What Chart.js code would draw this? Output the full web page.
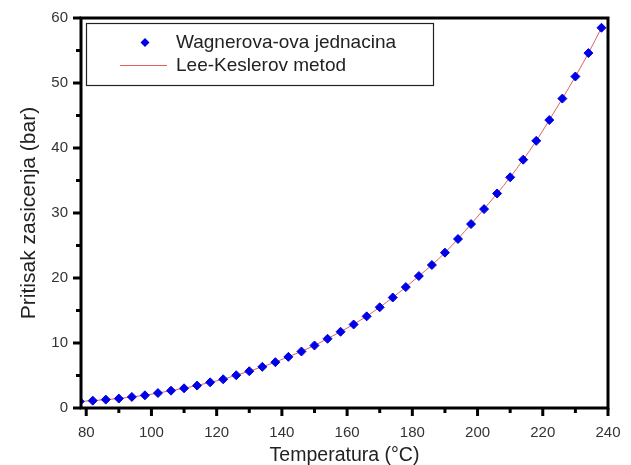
<!DOCTYPE html>
<html>
<head>
<meta charset="utf-8">
<script src="https://cdn.jsdelivr.net/npm/chart.js@4"></script>
<style>
  body { margin: 0; background: #fff; }
  canvas { display: block; }
</style>
</head>
<body>
<canvas id="chart" width="631" height="465"></canvas>
<script>
// temperatures (°C)
const temps = [78, 82, 86, 90, 94, 98, 102, 106, 110, 114, 118, 122, 126, 130, 134, 138, 142, 146, 150, 154,
  158, 162, 166, 170, 174, 178, 182, 186, 190, 194, 198, 202, 206, 210, 214, 218, 222, 226, 230, 234, 238];
// saturation pressure (bar)
const wagner = [1.0, 1.13, 1.29, 1.45, 1.7, 1.95, 2.3, 2.67, 3.03, 3.45, 3.95, 4.42, 5.04, 5.66, 6.33, 7.05, 7.87, 8.69, 9.62, 10.65,
  11.73, 12.85, 14.1, 15.5, 17.0, 18.6, 20.3, 22.0, 23.9, 26.0, 28.3, 30.6, 33.0, 35.5, 38.2, 41.1, 44.3, 47.6, 51.0, 54.6, 58.5];
const leeKesler = [1.0, 1.13, 1.29, 1.46, 1.7, 1.96, 2.3, 2.67, 3.04, 3.46, 3.95, 4.43, 5.04, 5.67, 6.34, 7.06, 7.88, 8.7, 9.63, 10.66,
  11.75, 12.87, 14.12, 15.5, 17.0, 18.6, 20.3, 22.0, 23.9, 26.0, 28.3, 30.6, 33.0, 35.5, 38.2, 41.1, 44.3, 47.6, 51.0, 54.6, 58.5];
const xTicks = [80, 100, 120, 140, 160, 180, 200, 220, 240];
const yTicks = [0, 10, 20, 30, 40, 50, 60];

const labelFont = "'Liberation Sans', Arial, sans-serif";

// frame, tick marks and boxed legend
const framePlugin = {
  id: "frame",
  afterDraw(chart) {
    const c = chart.ctx;
    const a = chart.chartArea;
    const xs = chart.scales.x, ys = chart.scales.y;
    c.save();
    c.strokeStyle = "#000";
    c.lineWidth = 3;
    c.strokeRect(a.left, a.top, a.right - a.left, a.bottom - a.top);

    c.lineWidth = 3;
    // x ticks (major + minor)
    for (let v = 80; v <= 240; v += 10) {
      const px = xs.getPixelForValue(v);
      c.beginPath();
      c.moveTo(px, a.bottom);
      c.lineTo(px, a.bottom + (v % 20 === 0 ? 8 : 5));
      c.stroke();
    }
    // y ticks (major + minor)
    for (let v = 0; v <= 60; v += 5) {
      const py = ys.getPixelForValue(v);
      c.beginPath();
      c.moveTo(a.left, py);
      c.lineTo(a.left - (v % 10 === 0 ? 8 : 5), py);
      c.stroke();
    }

    // legend box
    c.lineWidth = 1.2;
    c.strokeStyle = "#222";
    c.strokeRect(86.5, 23.5, 347, 62);
    c.font = "19px " + labelFont;
    c.textBaseline = "middle";
    const ds = chart.data.datasets;
    // diamond
    c.fillStyle = ds[0].backgroundColor;
    c.beginPath();
    c.moveTo(145, 38); c.lineTo(149.5, 42.5); c.lineTo(145, 47); c.lineTo(140.5, 42.5);
    c.closePath();
    c.fill();
    // line
    c.strokeStyle = ds[1].borderColor;
    c.lineWidth = 1;
    c.beginPath();
    c.moveTo(120, 65.5); c.lineTo(167, 65.5);
    c.stroke();
    c.fillStyle = "#222";
    c.fillText(ds[0].label, 176, 43);
    c.fillText(ds[1].label, 176, 66);
    c.restore();
  }
};

new Chart(document.getElementById("chart"), {
  type: "scatter",
  data: {
    datasets: [
      {
        label: "Wagnerova-ova jednacina",
        data: temps.map((t, i) => ({ x: t, y: wagner[i] })),
        backgroundColor: "#0000e6",
        borderColor: "#0000e6",
        pointStyle: "rectRot",
        pointRadius: 4.5,
        showLine: false
      },
      {
        label: "Lee-Keslerov metod",
        data: temps.map((t, i) => ({ x: t, y: leeKesler[i] })),
        borderColor: "#e06060",
        backgroundColor: "#e06060",
        borderWidth: 1,
        pointRadius: 0,
        showLine: true,
        cubicInterpolationMode: "monotone"
      }
    ]
  },
  options: {
    responsive: false,
    animation: false,
    layout: { padding: { left: 0, top: 18, right: 23, bottom: 0 } },
    plugins: {
      legend: { display: false },
      tooltip: { enabled: false }
    },
    scales: {
      x: {
        type: "linear",
        min: 78.4,
        max: 240,
        afterFit: s => { s.height = 57; },
        afterBuildTicks: s => { s.ticks = xTicks.map(v => ({ value: v })); },
        grid: { display: false },
        border: { display: false },
        ticks: {
          padding: 8,
          autoSkip: false,
          maxRotation: 0,
          color: "#333",
          font: { family: labelFont, size: 15 }
        },
        title: {
          display: true,
          text: "Temperatura (°C)",
          color: "#222",
          padding: { top: 0, bottom: -2 },
          font: { family: labelFont, size: 19.5 }
        }
      },
      y: {
        min: 0,
        max: 60,
        afterFit: s => { s.width = 81; },
        afterBuildTicks: s => { s.ticks = yTicks.map(v => ({ value: v })); },
        grid: { display: false },
        border: { display: false },
        ticks: {
          padding: 5,
          color: "#333",
          font: { family: labelFont, size: 15 }
        },
        title: {
          display: true,
          text: "Pritisak zasicenja (bar)",
          color: "#222",
          padding: { top: 17, bottom: 0 },
          font: { family: labelFont, size: 21 }
        }
      }
    }
  },
  plugins: [framePlugin]
});
</script>
</body>
</html>
